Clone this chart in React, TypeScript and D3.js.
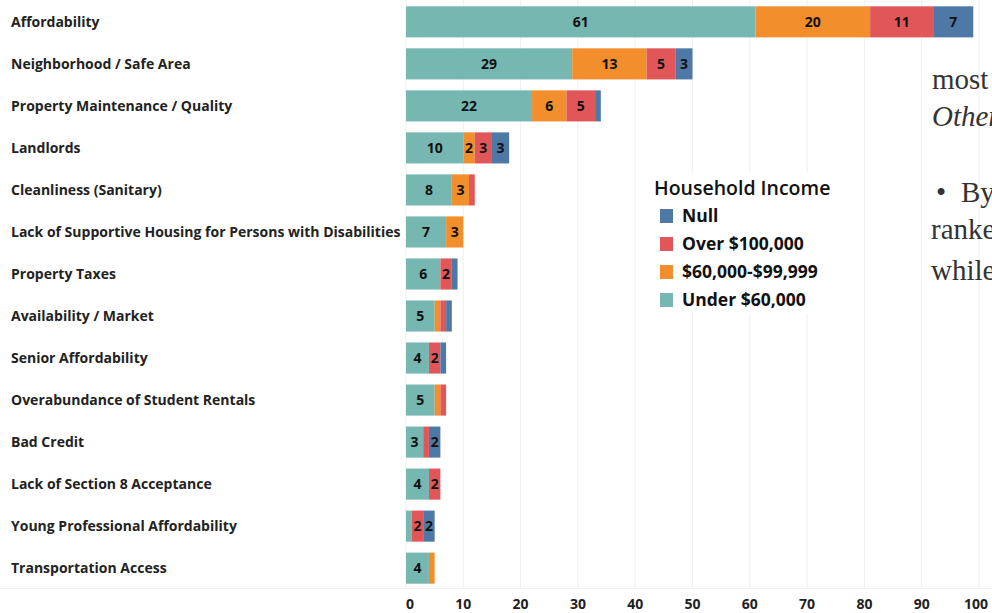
import React from 'react';
import * as d3 from 'd3';

// categories (top to bottom)
const categories = [
  'Affordability',
  'Neighborhood / Safe Area',
  'Property Maintenance / Quality',
  'Landlords',
  'Cleanliness (Sanitary)',
  'Lack of Supportive Housing for Persons with Disabilities',
  'Property Taxes',
  'Availability / Market',
  'Senior Affordability',
  'Overabundance of Student Rentals',
  'Bad Credit',
  'Lack of Section 8 Acceptance',
  'Young Professional Affordability',
  'Transportation Access',
];

// series values per household income group
const under60k = [61, 29, 22, 10, 8, 7, 6, 5, 4, 5, 3, 4, 1, 4];
const mid60to100k = [20, 13, 6, 2, 3, 3, 0, 1, 0, 1, 0, 0, 0, 1];
const over100k = [11, 5, 5, 3, 1, 0, 2, 1, 2, 1, 1, 2, 2, 0];
const nullIncome = [7, 3, 1, 3, 0, 0, 1, 1, 1, 0, 2, 0, 2, 0];

const seriesKeys = ['under', 'mid', 'over', 'null'];
const seriesColors = { under: '#76B7B2', mid: '#F28E2B', over: '#E15759', null: '#4E79A7' };
const legendItems = [
  { key: 'null', label: 'Null' },
  { key: 'over', label: 'Over $100,000' },
  { key: 'mid', label: '$60,000-$99,999' },
  { key: 'under', label: 'Under $60,000' },
];
const xTicks = [0, 10, 20, 30, 40, 50, 60, 70, 80, 90, 100];

const W = 992;
const H = 613;
const labelFont = '"Open Sans", "DejaVu Sans", sans-serif';

export default function App() {
  const rows = categories.map((c, i) => ({
    category: c,
    under: under60k[i],
    mid: mid60to100k[i],
    over: over100k[i],
    null: nullIncome[i],
  }));

  const x = d3.scaleLinear().domain([0, 100]).range([406, 979]);
  const y = d3.scaleBand().domain(categories).range([0, 590]).paddingInner(0.26).paddingOuter(0.15);
  const stacked = d3.stack().keys(seriesKeys)(rows as any);

  return (
    <svg width={W} height={H} style={{ position: 'absolute', left: 0, top: 0, background: '#fff' }}>
      {/* gridlines */}
      {xTicks.map(t => (
        <line key={t} x1={x(t)} x2={x(t)} y1={0} y2={589} stroke="#efefef" strokeWidth={1} />
      ))}
      <line x1={0} x2={W} y1={588.5} y2={588.5} stroke="#f0f0f0" />

      {/* row labels */}
      {categories.map(c => (
        <text key={c} x={11} y={y(c)! + y.bandwidth() / 2} dy="0.36em"
          fontFamily={labelFont} fontWeight={700} fontSize={14} fill="#222">{c}</text>
      ))}

      {/* bars */}
      {stacked.map(s => (
        <g key={s.key}>
          {s.map((d: any) => {
            const v = d[1] - d[0];
            if (v <= 0) return null;
            const x0 = x(d[0]);
            const x1 = x(d[1]);
            const yy = y(d.data.category)!;
            return (
              <g key={d.data.category}>
                <rect x={x0} y={yy} width={x1 - x0} height={y.bandwidth()} fill={(seriesColors as any)[s.key]} />
                {v >= 2 && (
                  <text x={(x0 + x1) / 2} y={yy + y.bandwidth() / 2} dy="0.36em" textAnchor="middle"
                    fontFamily={labelFont} fontWeight={700} fontSize={14} fill="#111">{v}</text>
                )}
              </g>
            );
          })}
        </g>
      ))}

      {/* x axis labels */}
      {xTicks.map(t => (
        <text key={t} x={t === 0 ? x(t) + 4 : t === 100 ? x(t) - 3 : x(t)} y={604} dy="0.36em" textAnchor="middle"
          fontFamily={labelFont} fontWeight={700} fontSize={14} fill="#222">{t}</text>
      ))}

      {/* legend */}
      <rect x={648} y={172} width={200} height={142} fill="#fff" />
      <text x={654} y={188} dy="0.35em" fontFamily={labelFont} fontWeight={600} fontSize={19.5} fill="#111">Household Income</text>
      {legendItems.map((it, i) => (
        <g key={it.key}>
          <rect x={660} y={209 + i * 28} width={13} height={14} fill={(seriesColors as any)[it.key]} />
          <text x={682} y={216 + i * 28} dy="0.35em" fontFamily={labelFont} fontWeight={700} fontSize={17.5} fill="#111">{it.label}</text>
        </g>
      ))}

      {/* surrounding document text, cut off at the right edge */}
      <g fontFamily='"Liberation Serif", "DejaVu Serif", serif' fontSize={29} fill="#333">
        <text x={932} y={89}>most</text>
        <text x={932} y={126} fontStyle="italic">Other</text>
        <text x={936} y={202}>•</text>
        <text x={961} y={202}>By</text>
        <text x={931} y={239}>ranke</text>
        <text x={931} y={280}>while</text>
      </g>
    </svg>
  );
}
